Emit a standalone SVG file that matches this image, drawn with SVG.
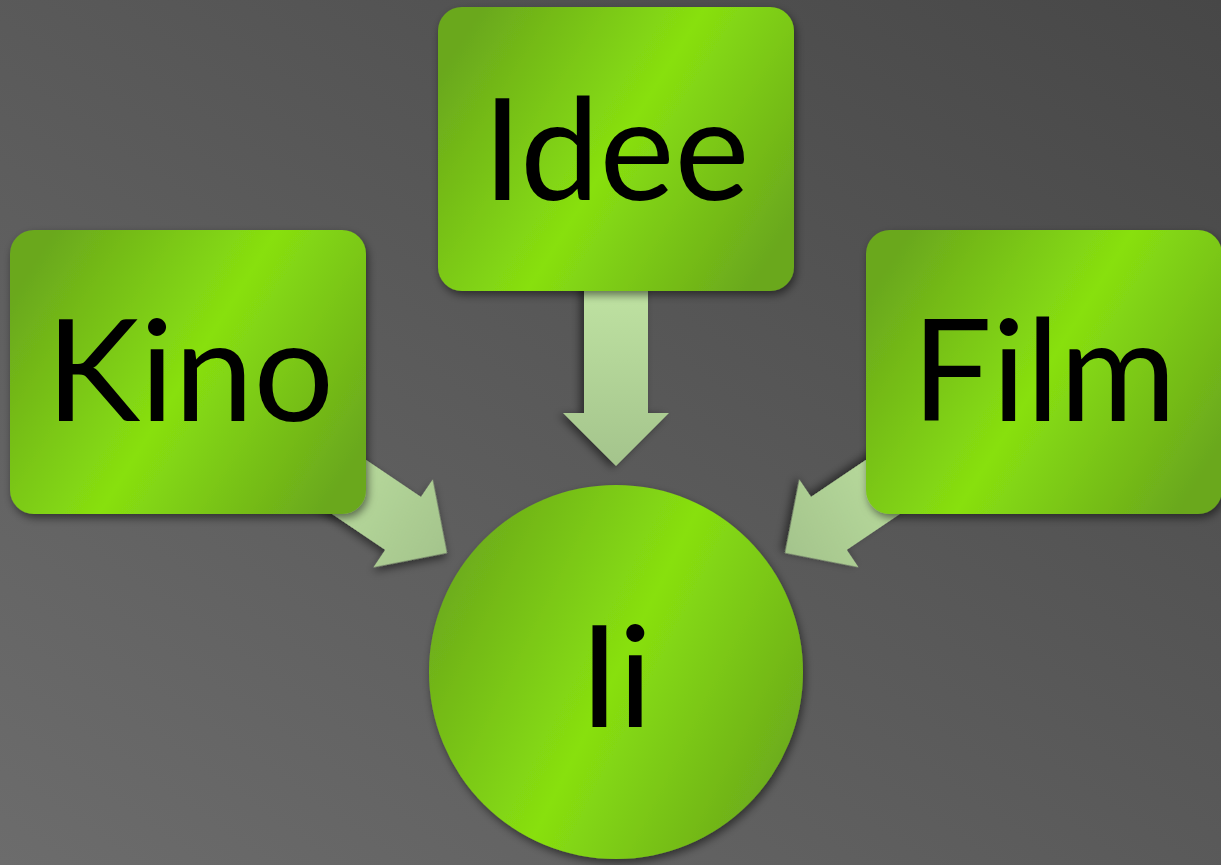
<svg xmlns="http://www.w3.org/2000/svg" width="1221" height="865" viewBox="0 0 1221 865">
<defs>
<linearGradient id="bg" x1="0" y1="1" x2="1" y2="0">
<stop offset="0" stop-color="#6c6c6c"/>
<stop offset="1" stop-color="#474747"/>
</linearGradient>
<linearGradient id="green" x1="0" y1="0.25" x2="1" y2="0.75">
<stop offset="0" stop-color="#6aa81c"/>
<stop offset="0.5" stop-color="#88e010"/>
<stop offset="1" stop-color="#6aa81c"/>
</linearGradient>
<linearGradient id="arrowg" x1="0" y1="0" x2="1" y2="0">
<stop offset="0" stop-color="#c4e8a6"/>
<stop offset="1" stop-color="#a4c48c"/>
</linearGradient>
<filter id="sh" x="-20%" y="-20%" width="140%" height="140%">
<feDropShadow dx="2" dy="4" stdDeviation="4" flood-color="#000" flood-opacity="0.5"/>
</filter>
<polygon id="arrow" points="0,-32 160,-32 160,-53 213,0 160,53 160,32 0,32"/>
</defs>
<style>
.box{fill:url(#green);filter:url(#sh)}
.arr{fill:url(#arrowg);filter:url(#sh)}
.lbl{font-family:Lato,"Open Sans","DejaVu Sans",sans-serif;font-size:142px;fill:#000;text-anchor:middle}
</style>
<rect width="1221" height="865" fill="url(#bg)"/>
<g id="connectors">
<use href="#arrow" class="arr" transform="translate(616,466) rotate(90) translate(-213,0)"/>
<use href="#arrow" class="arr" transform="translate(447,553) rotate(34) translate(-213,0)"/>
<use href="#arrow" class="arr" transform="translate(785,553) rotate(146) translate(-213,0)"/>
</g>
<g id="kino">
<rect class="box" x="10" y="230" width="356" height="284" rx="24"/>
<text class="lbl" x="190" y="421">Kino</text>
</g>
<g id="idee">
<rect class="box" x="438" y="7" width="356" height="284" rx="24"/>
<text class="lbl" x="616" y="200">Idee</text>
</g>
<g id="film">
<rect class="box" x="866" y="230" width="356" height="284" rx="24"/>
<text class="lbl" x="1044" y="421">Film</text>
</g>
<g id="ii">
<circle class="box" cx="616" cy="672" r="187"/>
<text class="lbl" x="616" y="727">Ii</text>
</g>
</svg>
